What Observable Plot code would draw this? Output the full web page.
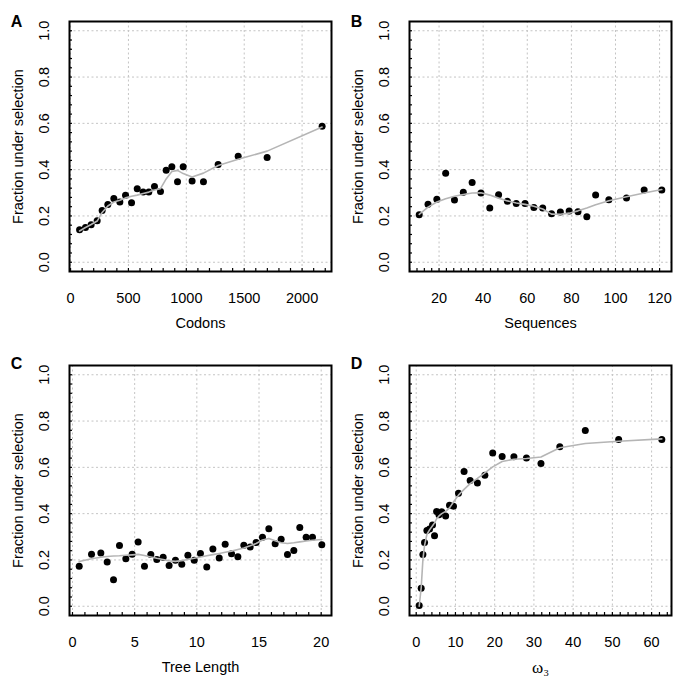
<!DOCTYPE html>
<html>
<head>
<meta charset="utf-8">
<script src="https://cdn.jsdelivr.net/npm/d3@7"></script>
<script src="https://cdn.jsdelivr.net/npm/@observablehq/plot@0.6"></script>
<style>
  html, body { margin: 0; padding: 0; background: #fff; }
  #grid { display: grid; grid-template-columns: 340px 340px; grid-template-rows: 342px 342px; width: 680px; height: 684px; }
  #grid svg { display: block; }
</style>
</head>
<body>
<div id="grid"></div>
<script>
// ---- Panel A: Codons ----
const codons = [78,129,178,230,273,322,374,426,475,527,576,627,676,725,777,826,875,924,973,1050,1148,1275,1448,1698,2173];
const codonFrac = [0.140,0.150,0.162,0.179,0.223,0.249,0.275,0.260,0.289,0.257,0.318,0.303,0.303,0.327,0.306,0.397,0.412,0.348,0.412,0.351,0.348,0.422,0.458,0.452,0.587];
const codonFit = [0.135,0.150,0.163,0.178,0.215,0.243,0.260,0.268,0.278,0.285,0.290,0.297,0.303,0.312,0.318,0.360,0.392,0.397,0.383,0.368,0.385,0.418,0.445,0.480,0.584];

// ---- Panel B: Sequences ----
const seqs = [11,15,19,23,27,31,35,39,43,47,51,55,59,63,67,71,75,79,83,87,91,97,105,113,121];
const seqFrac = [0.205,0.251,0.272,0.384,0.269,0.302,0.345,0.299,0.234,0.292,0.263,0.254,0.254,0.237,0.234,0.210,0.217,0.221,0.218,0.197,0.290,0.270,0.277,0.312,0.312];
const seqFit = [0.207,0.238,0.260,0.274,0.285,0.293,0.299,0.300,0.290,0.277,0.265,0.256,0.250,0.242,0.230,0.208,0.207,0.212,0.222,0.234,0.248,0.266,0.283,0.299,0.314];

// ---- Panel C: Tree Length ----
const treeLen = [0.54,1.53,2.28,2.79,3.30,3.78,4.29,4.80,5.28,5.79,6.30,6.78,7.29,7.77,8.28,8.79,9.28,9.79,10.29,10.80,11.29,11.80,12.28,12.79,13.30,13.78,14.29,14.77,15.28,15.79,16.30,16.78,17.29,17.80,18.28,18.79,19.30,20.05];
const treeFrac = [0.173,0.225,0.230,0.191,0.114,0.262,0.205,0.225,0.277,0.173,0.223,0.202,0.212,0.176,0.199,0.181,0.220,0.199,0.228,0.169,0.247,0.208,0.268,0.227,0.214,0.263,0.256,0.275,0.298,0.335,0.270,0.289,0.224,0.241,0.340,0.298,0.298,0.266];
const treeFit = [0.193,0.205,0.212,0.215,0.217,0.218,0.220,0.222,0.224,0.219,0.213,0.207,0.202,0.196,0.194,0.197,0.202,0.207,0.213,0.218,0.223,0.228,0.233,0.238,0.245,0.252,0.261,0.271,0.286,0.293,0.283,0.274,0.271,0.274,0.278,0.282,0.285,0.288];

// ---- Panel D: omega3 ----
const omega = [0.76,1.27,1.70,2.12,2.72,3.40,4.16,4.67,5.20,5.80,6.50,7.50,8.49,9.50,10.78,12.20,13.75,15.60,17.50,19.50,21.90,24.90,28.10,31.80,36.60,43.10,51.60,62.60];
const omegaFrac = [0.003,0.078,0.223,0.275,0.327,0.334,0.351,0.305,0.409,0.395,0.408,0.390,0.436,0.432,0.488,0.582,0.543,0.532,0.566,0.662,0.647,0.646,0.640,0.617,0.689,0.759,0.720,0.720];
const omegaFit = [0.000,0.080,0.200,0.262,0.310,0.330,0.348,0.360,0.378,0.390,0.400,0.410,0.425,0.450,0.480,0.505,0.530,0.552,0.576,0.602,0.625,0.635,0.638,0.645,0.685,0.703,0.713,0.723];

const yMajor = [0, 0.2, 0.4, 0.6, 0.8, 1.0];
const yLabel = "Fraction under selection";

const panels = [
  {letter: "A", xs: codons, ys: codonFrac, fit: codonFit, domain: [-9, 2254], major: [0,500,1000,1500,2000], minor: d3.range(0, 2201, 100), title: "Codons", top: 21},
  {letter: "B", xs: seqs, ys: seqFrac, fit: seqFit, domain: [6.6, 125.4], major: [20,40,60,80,100,120], minor: d3.range(2, 37).map(i => i * 20 / 6).filter(v => v > 6.6 && v < 125.4), title: "Sequences", top: 21},
  {letter: "C", xs: treeLen, ys: treeFrac, fit: treeFit, domain: [-0.24, 20.83], major: [0,5,10,15,20], minor: d3.range(0, 21, 1), title: "Tree Length", top: 23},
  {letter: "D", xs: omega, ys: omegaFrac, fit: omegaFit, domain: [-1.71, 65.07], major: [0,10,20,30,40,50,60], minor: d3.range(0, 65, 2), title: "\u03C9\u2083", top: 23, serif: true}
];

const fs = 14.5;
const grid = document.getElementById("grid");
for (const p of panels) {
  const chart = Plot.plot({
    width: 340, height: 342,
    marginLeft: 69, marginRight: 9, marginTop: p.top, marginBottom: 342 - p.top - 250,
    style: {fontFamily: "'Liberation Sans', Arial, Helvetica, sans-serif", fontSize: fs + "px", color: "black", background: "white"},
    x: {domain: p.domain},
    y: {domain: [-0.04, 1.04]},
    marks: [
      Plot.gridX(p.major, {stroke: "#c4c4c4", strokeOpacity: 1, strokeDasharray: "2,2.5", strokeWidth: 1}),
      Plot.gridY(yMajor, {stroke: "#c4c4c4", strokeOpacity: 1, strokeDasharray: "2,2.5", strokeWidth: 1}),
      Plot.axisY({ticks: d3.range(0, 1.0001, 0.04), anchor: "left", tickSize: 3, dx: 3, text: null, stroke: "black", strokeWidth: 1.2}),
      Plot.axisX({ticks: p.minor, anchor: "bottom", tickSize: 3, dy: -3, text: null, stroke: "black", strokeWidth: 1.2}),
      Plot.text(yMajor, {y: d => d, text: d => d.toFixed(1), frameAnchor: "left", dx: -25, rotate: -90, textAnchor: "middle", lineAnchor: "middle", fontSize: fs, fill: "black"}),
      Plot.text(p.major, {x: d => d, text: d => String(d), frameAnchor: "bottom", dy: 27, lineAnchor: "middle", fontSize: fs, fill: "black"}),
      Plot.text([p.title], {text: d => d, frameAnchor: "bottom", dy: 52, lineAnchor: "middle", fontSize: p.serif ? 17 : fs, fontFamily: p.serif ? "'Liberation Serif', 'DejaVu Serif', serif" : undefined, fill: "black"}),
      Plot.text([yLabel], {text: d => d, frameAnchor: "left", dx: -51, rotate: -90, textAnchor: "middle", lineAnchor: "middle", fontSize: fs, fill: "black"}),
      Plot.text([p.letter], {text: d => d, frameAnchor: "top-left", dx: -53, dy: (p.top === 21 ? 0 : -2), textAnchor: "middle", lineAnchor: "middle", fontSize: 16, fontWeight: "bold", fill: "black"}),
      Plot.dot(p.xs, {x: p.xs, y: p.ys, r: 3.5, fill: "black", stroke: "none"}),
      Plot.line(p.xs, {x: p.xs, y: p.fit, stroke: "#b5b5b5", strokeWidth: 1.6, curve: "linear"}),
      Plot.frame({stroke: "black", strokeWidth: 2})
    ]
  });
  grid.appendChild(chart);
}
</script>
</body>
</html>
